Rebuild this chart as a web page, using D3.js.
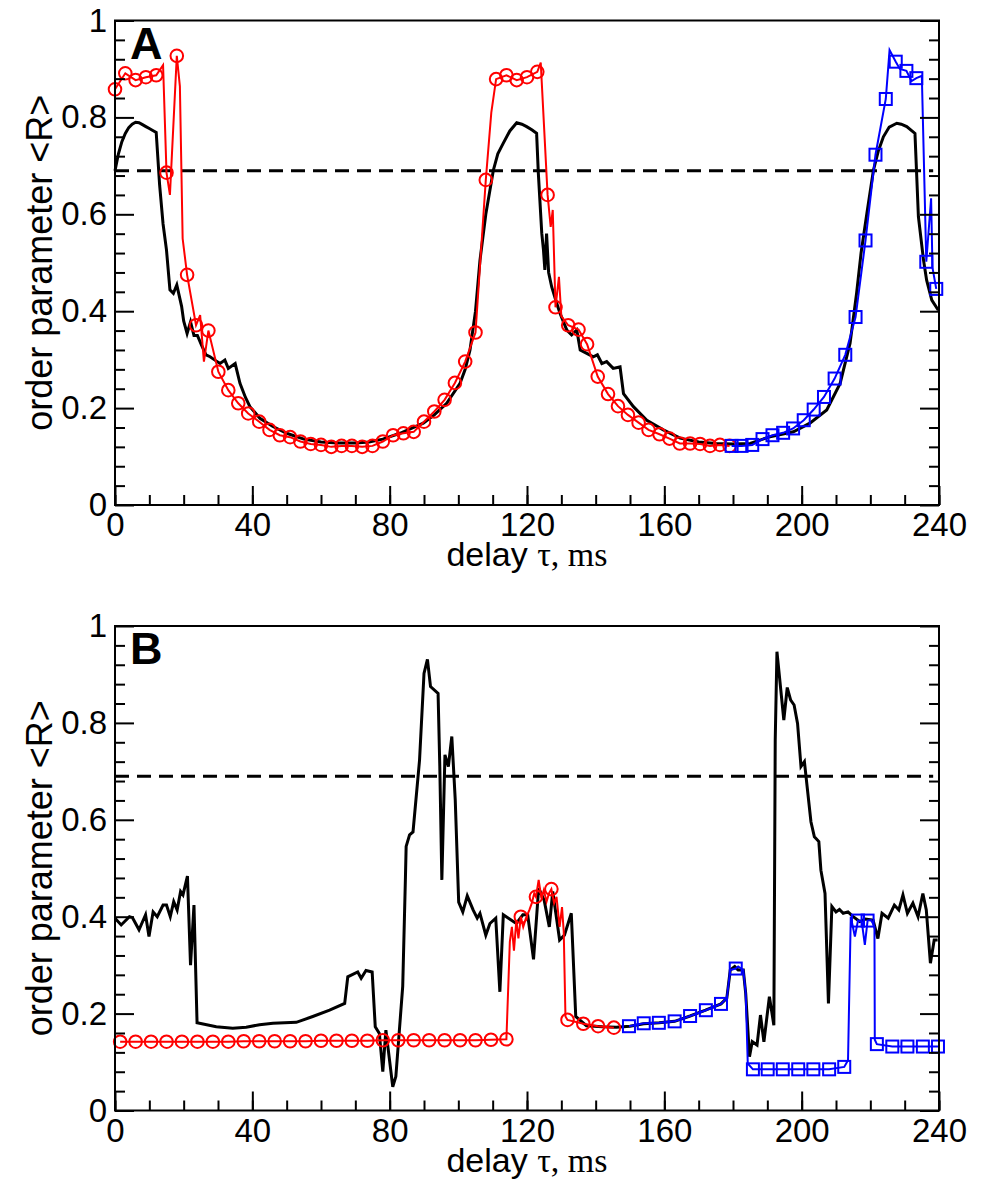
<!DOCTYPE html>
<html>
<head>
<meta charset="utf-8">
<script src="https://cdnjs.cloudflare.com/ajax/libs/d3/7.8.5/d3.min.js"></script>
<style>
  body { margin: 0; background: #fff; }
  svg { font-family: "Liberation Sans", Arial, sans-serif; }
</style>
</head>
<body>
<script>
// ---- data (delay in ms, order parameter <R>) ----
const xMajor = [0, 40, 80, 120, 160, 200, 240];
const xMinor = d3.range(0, 241, 10);
const yMajor = [0, 0.2, 0.4, 0.6, 0.8, 1];
const yMinor = [0.04, 0.08, 0.12, 0.16, 0.24, 0.28, 0.32, 0.36, 0.44, 0.48, 0.52, 0.56,
  0.64, 0.68, 0.72, 0.76, 0.84, 0.88, 0.92, 0.96];
const threshold = 0.69;
const thresholdSpan = [0, 238.3];

// panel A
const blackA = [[0,0.69],[1,0.725],[2,0.75],[3,0.767],[4,0.779],[5,0.786],[6,0.79],[7,0.789],
  [8,0.785],[9,0.781],[10,0.777],[11,0.773],[12,0.769],[13,0.66],[14,0.58],[15,0.526],
  [16,0.444],[17,0.437],[18,0.454],[19.4,0.41],[20,0.38],[21,0.354],[22,0.378],[23,0.35],
  [24,0.35],[25.2,0.33],[26.5,0.31],[27.7,0.306],[29.1,0.299],[30.6,0.292],[32,0.299],
  [33,0.282],[35,0.292],[36.4,0.251],[38,0.222],[39.3,0.203],[42.2,0.179],[46,0.162],
  [50,0.148],[55,0.136],[60,0.13],[65,0.128],[70,0.128],[74,0.13],[78,0.136],[83,0.148],
  [86,0.157],[89.8,0.169],[93,0.186],[96.6,0.21],[100.5,0.251],[102,0.28],[103.4,0.32],
  [105,0.4],[106.3,0.505],[108,0.6],[110.2,0.691],[111.5,0.725],[113.1,0.747],[115,0.772],
  [117,0.789],[118.5,0.786],[119.9,0.781],[121.5,0.774],[122.8,0.767],[123.3,0.685],
  [124.3,0.561],[124.8,0.526],[125.2,0.485],[125.7,0.56],[126.3,0.48],[127.2,0.45],
  [128.5,0.42],[129.6,0.396],[131.6,0.361],[133,0.351],[134.5,0.361],[135.5,0.32],
  [137.4,0.313],[139.3,0.306],[140.5,0.31],[141.8,0.292],[143.2,0.296],[145.1,0.282],
  [147.1,0.285],[148.1,0.23],[151,0.203],[154.9,0.175],[159.7,0.155],[164.6,0.138],
  [170,0.13],[175,0.127],[180,0.126],[185,0.127],[190.8,0.141],[197.6,0.151],[202.4,0.169],
  [207.3,0.196],[211.2,0.251],[214.1,0.334],[216,0.437],[217.3,0.52],[219,0.602],
  [220.9,0.691],[222.3,0.73],[223.8,0.76],[225.5,0.78],[227.7,0.788],[229,0.786],
  [230.6,0.781],[233,0.767],[234,0.595],[235.5,0.505],[236.4,0.464],[237.9,0.423],[239.8,0.402]];

const redAMarks = [[0,0.858],[3,0.891],[6,0.877],[9,0.883],[12,0.887],[15,0.686],[18,0.927],
  [21,0.475],[23.6,0.371],[27.2,0.36],[30.1,0.275],[33,0.237],[35.9,0.21],[38.8,0.189],
  [42,0.172],[45,0.155],[48,0.144],[51,0.14],[54,0.131],[57,0.126],[60,0.124],[63,0.12],
  [66,0.122],[69,0.122],[72,0.12],[75,0.122],[78,0.131],[81,0.144],[84,0.148],[87,0.151],
  [90,0.172],[93,0.193],[96,0.217],[99,0.252],[102,0.296],[105,0.356],[108,0.671],
  [111,0.879],[114,0.887],[117,0.877],[120,0.883],[123,0.894],[126,0.64],[128.3,0.408],
  [132,0.371],[135,0.362],[137.5,0.332],[140.6,0.265],[143.6,0.229],[146.5,0.204],
  [149.4,0.186],[152.5,0.17],[155.4,0.155],[158.6,0.146],[161.5,0.137],[164.5,0.127],
  [167.5,0.127],[170.4,0.126],[173.3,0.122],[176.2,0.124],[179,0.122]];
const redAExtra = [[14,0.908],[16,0.64],[18.9,0.864],[19.7,0.55],[24.8,0.392],[25.9,0.296],
  [109.6,0.81],[124,0.913],[126.9,0.574],[127.5,0.609],[129.3,0.471],[130,0.39]];

const blueAMarks = [[179.6,0.122],[182.5,0.122],[185.6,0.124],[188.6,0.136],[191.5,0.144],
  [194.6,0.149],[197.5,0.158],[200.6,0.175],[203.5,0.197],[206.5,0.223],[209.6,0.261],
  [212.7,0.31],[215.7,0.388],[218.6,0.546],[221.5,0.723],[224.5,0.838],[227.4,0.915],
  [230.5,0.896],[233.4,0.881],[236.3,0.502],[239.2,0.446]];
const blueAExtra = [[225.6,0.939],[228.6,0.9],[232,0.875],[235,0.886],[237.7,0.633],[238.1,0.49]];

// panel B
const blackB = [[0,0.397],[1.8,0.383],[4.2,0.4],[5.1,0.398],[7,0.373],[8.9,0.404],[9.9,0.359],
  [11.1,0.41],[12.3,0.4],[14,0.424],[15,0.424],[16.1,0.4],[17.1,0.431],[18.1,0.414],
  [19.1,0.452],[19.8,0.445],[21.1,0.484],[22,0.3],[23,0.424],[23.9,0.181],[29.5,0.173],
  [34.3,0.17],[38.2,0.172],[42.1,0.177],[46,0.18],[52.8,0.182],[57.6,0.194],[62.5,0.207],
  [66.9,0.221],[67.8,0.276],[70.7,0.286],[71.7,0.273],[73.1,0.289],[74.9,0.286],
  [75.8,0.173],[77,0.159],[78,0.08],[78.9,0.166],[80.9,0.049],[81.8,0.07],[83.8,0.256],
  [84.6,0.483],[84.8,0.545],[85.8,0.569],[86.8,0.575],[88.7,0.723],[90,0.902],[91,0.931],
  [91.9,0.875],[94.1,0.861],[94.6,0.71],[95.2,0.476],[96.1,0.734],[97.1,0.71],[98.1,0.772],
  [99.1,0.641],[100.1,0.43],[101.3,0.41],[102.6,0.443],[104.3,0.414],[105.5,0.397],
  [106.3,0.407],[108,0.362],[109.2,0.386],[110.9,0.397],[112.1,0.245],[113.1,0.404],
  [114.6,0.397],[116.9,0.386],[118.8,0.404],[120.2,0.404],[121.9,0.312],[123.4,0.459],
  [125,0.434],[126.5,0.379],[127.5,0.452],[129.5,0.352],[130.9,0.362],[132.9,0.407],
  [134.2,0.194],[137.3,0.175],[142,0.173],[146,0.172],[150,0.174],[154,0.179],[158.5,0.181],
  [163,0.184],[167.5,0.195],[172,0.207],[176.5,0.22],[178.2,0.232],[179.2,0.29],
  [180.5,0.297],[181.5,0.29],[183,0.29],[183.7,0.242],[184.8,0.111],[185.6,0.142],
  [187,0.135],[188,0.197],[189,0.142],[190.6,0.235],[191.9,0.176],[192.3,0.765],
  [192.8,0.947],[194.8,0.806],[195.8,0.873],[196.8,0.847],[197.8,0.837],[198.8,0.799],
  [199.8,0.71],[200.8,0.72],[202.7,0.596],[203.7,0.565],[205,0.555],[205.6,0.496],
  [206.8,0.448],[207.8,0.221],[208.8,0.421],[210,0.41],[211,0.415],[212.1,0.407],
  [213.5,0.41],[215,0.4],[216.9,0.39],[218.5,0.395],[220.8,0.393],[222.2,0.355],
  [223.4,0.407],[225.2,0.397],[227,0.424],[228.3,0.414],[229.5,0.445],[230.8,0.407],
  [232.4,0.428],[233.9,0.4],[235.3,0.448],[236.3,0.414],[237.5,0.304],[238.6,0.352],[239.6,0.352]];

const redBMarks = [[1.5,0.142],[6,0.142],[10.5,0.142],[15,0.142],[19.5,0.142],[24,0.142],
  [28.5,0.142],[33,0.142],[37.5,0.143],[42,0.143],[46.5,0.143],[51,0.143],[55.5,0.143],
  [60,0.144],[64.5,0.144],[69,0.144],[73.5,0.144],[78,0.145],[82.5,0.145],[87,0.145],
  [91.5,0.145],[96,0.145],[100.5,0.145],[105,0.145],[109.5,0.146],[114,0.147],
  [118.2,0.4],[122.6,0.441],[127.1,0.457],[131.8,0.187],[136.4,0.179],[140.7,0.174],[145.3,0.171]];
const redBExtra = [[115,0.348],[115.6,0.379],[116.2,0.33],[116.9,0.393],[117.5,0.355],
  [118.9,0.379],[119.7,0.397],[120.7,0.414],[121.4,0.428],[122.1,0.448],[123.4,0.476],
  [124.2,0.438],[124.9,0.455],[125.7,0.431],[126.4,0.448],[127.9,0.428],[128.6,0.441],
  [129.5,0.379],[130.2,0.42],[130.7,0.369],[131.2,0.194]];

const blueBMarks = [[149.7,0.174],[154,0.18],[158.4,0.181],[163,0.184],[167.5,0.195],
  [172.1,0.207],[176.5,0.22],[180.8,0.293],[185.8,0.085],[190.1,0.085],[194.5,0.085],
  [199,0.085],[203.4,0.085],[208,0.085],[212.4,0.09],[216.4,0.392],[219.2,0.392],
  [221.9,0.137],[226.4,0.132],[230.8,0.132],[235.3,0.132],[239.7,0.132]];
const blueBExtra = [[178.2,0.232],[179.2,0.29],[181.5,0.297],[183,0.29],[183.7,0.242],
  [184.3,0.097],[213.5,0.104],[214.3,0.4],[215.5,0.359],[217.5,0.39],[218.4,0.342],
  [220.2,0.393],[221.2,0.38],[221.3,0.146]];

// ---- drawing ----
const w = 982;
const h = 1190;

const svg = d3.select("body").append("svg").attr("width", w).attr("height", h);

const x = d3.scaleLinear().domain([0, 240]).range([115, 939]);

const panels = [
  { label: "A", y: d3.scaleLinear().domain([0, 1]).range([505, 20.5]),
    black: blackA, redMarks: redAMarks, redExtra: redAExtra, blueMarks: blueAMarks, blueExtra: blueAExtra },
  { label: "B", y: d3.scaleLinear().domain([0, 1]).range([1110.5, 626]),
    black: blackB, redMarks: redBMarks, redExtra: redBExtra, blueMarks: blueBMarks, blueExtra: blueBExtra }
];

function merged(a, b) {
  return a.concat(b).sort((p, q) => p[0] - q[0]);
}

function fmtY(d) {
  return d === 0 || d === 1 ? String(d) : d3.format(".1f")(d);
}

panels.forEach((p) => {
  const y = p.y;
  const g = svg.append("g");
  const [yb, yt] = y.range();

  const line = d3.line().x((d) => x(d[0])).y((d) => y(d[1]));

  // threshold
  g.append("line")
    .attr("x1", x(thresholdSpan[0])).attr("x2", x(thresholdSpan[1]))
    .attr("y1", y(threshold)).attr("y2", y(threshold))
    .attr("stroke", "#000").attr("stroke-width", 3)
    .attr("stroke-dasharray", "14,8");

  // black curve
  g.append("path").datum(p.black).attr("d", line)
    .attr("fill", "none").attr("stroke", "#000").attr("stroke-width", 3);

  // red series
  g.append("path").datum(merged(p.redMarks, p.redExtra)).attr("d", line)
    .attr("fill", "none").attr("stroke", "#ff0000").attr("stroke-width", 2);
  g.selectAll("circle.red").data(p.redMarks).enter().append("circle")
    .attr("cx", (d) => x(d[0])).attr("cy", (d) => y(d[1])).attr("r", 6.3)
    .attr("fill", "none").attr("stroke", "#ff0000").attr("stroke-width", 2);

  // blue series
  g.append("path").datum(merged(p.blueMarks, p.blueExtra)).attr("d", line)
    .attr("fill", "none").attr("stroke", "#0000ff").attr("stroke-width", 2);
  g.selectAll("rect.blue").data(p.blueMarks).enter().append("rect")
    .attr("x", (d) => x(d[0]) - 6).attr("y", (d) => y(d[1]) - 6)
    .attr("width", 12).attr("height", 12)
    .attr("fill", "none").attr("stroke", "#0000ff").attr("stroke-width", 2);

  // axes
  const styleAxis = (a) => {
    a.select(".domain").remove();
    a.selectAll("line").attr("stroke", "#000").attr("stroke-width", 2);
    a.selectAll("text").attr("font-size", 33).attr("fill", "#000")
      .attr("font-family", "'Liberation Sans', Arial, sans-serif");
  };

  g.append("g").attr("transform", `translate(0,${yb})`)
    .call(d3.axisBottom(x).tickValues(xMinor).tickSize(-10).tickFormat(""))
    .call(styleAxis);
  g.append("g").attr("transform", `translate(0,${yb})`)
    .call(d3.axisBottom(x).tickValues(xMajor).tickSize(-19).tickPadding(8).tickFormat(d3.format("d")))
    .call(styleAxis);

  g.append("g").attr("transform", `translate(${x(0)},0)`)
    .call(d3.axisLeft(y).tickValues(yMinor).tickSize(-10).tickFormat(""))
    .call(styleAxis);
  g.append("g").attr("transform", `translate(${x(0)},0)`)
    .call(d3.axisLeft(y).tickValues(yMajor).tickSize(-19).tickPadding(8).tickFormat(fmtY))
    .call(styleAxis);

  g.append("g").attr("transform", `translate(${x(240)},0)`)
    .call(d3.axisRight(y).tickValues(yMinor).tickSize(-10).tickFormat(""))
    .call(styleAxis);
  g.append("g").attr("transform", `translate(${x(240)},0)`)
    .call(d3.axisRight(y).tickValues(yMajor).tickSize(-19).tickFormat(""))
    .call(styleAxis);

  // frame
  g.append("rect")
    .attr("x", x(0)).attr("y", yt)
    .attr("width", x(240) - x(0)).attr("height", yb - yt)
    .attr("fill", "none").attr("stroke", "#000").attr("stroke-width", 2);

  // panel letter
  g.append("text").attr("x", x(0) + 15).attr("y", yt + 38)
    .attr("font-size", 45).attr("font-weight", "bold").text(p.label);

  // axis titles
  const xt = g.append("text").attr("x", (x(0) + x(240)) / 2).attr("y", yb + 61)
    .attr("text-anchor", "middle").attr("font-size", 34);
  xt.append("tspan").text("delay ");
  xt.append("tspan").attr("font-family", "'Liberation Serif', 'Times New Roman', serif").text("τ, ms");

  g.append("text")
    .attr("transform", `translate(52,${(yb + yt) / 2}) rotate(-90)`)
    .attr("text-anchor", "middle").attr("font-size", 36)
    .text("order parameter <R>");
});
</script>
</body>
</html>
